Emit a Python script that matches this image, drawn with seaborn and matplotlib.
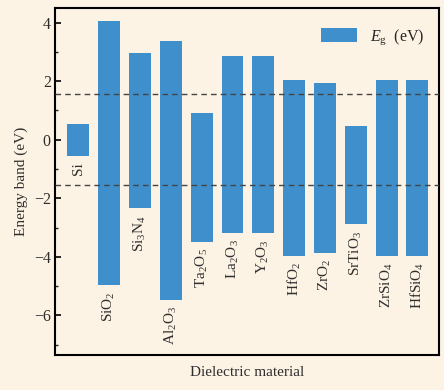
import matplotlib
matplotlib.use("Agg")
import matplotlib.pyplot as plt
import seaborn as sns
import pandas as pd
from matplotlib.ticker import MultipleLocator
from matplotlib.patches import Patch

materials = ["Si", "SiO2", "Si3N4", "Al2O3", "Ta2O5", "La2O3", "Y2O3",
             "HfO2", "ZrO2", "SrTiO3", "ZrSiO4", "HfSiO4"]
labels = ["Si", r"SiO$_2$", r"Si$_3$N$_4$", r"Al$_2$O$_3$", r"Ta$_2$O$_5$",
          r"La$_2$O$_3$", r"Y$_2$O$_3$", r"HfO$_2$", r"ZrO$_2$", r"SrTiO$_3$",
          r"ZrSiO$_4$", r"HfSiO$_4$"]
band_top = [0.55, 4.05, 2.97, 3.37, 0.91, 2.85, 2.85, 2.05, 1.94, 0.46, 2.05, 2.05]
band_bottom = [-0.55, -4.97, -2.34, -5.46, -3.48, -3.17, -3.17, -3.96, -3.86, -2.88, -3.96, -3.96]
ref_levels = [1.56, -1.56]

bg = "#FDF3E4"
bar_color = "#3E8FCB"
txt = "#2e2e2e"

sns.set_theme(style="ticks")
plt.rcParams["font.family"] = ["Liberation Serif", "DejaVu Serif"]
plt.rcParams["mathtext.fontset"] = "custom"
plt.rcParams["mathtext.rm"] = "Liberation Serif"
plt.rcParams["mathtext.it"] = "Liberation Serif:italic"

df = pd.DataFrame({
    "material": materials,
    "gap": [t - b for t, b in zip(band_top, band_bottom)],
    "bottom": band_bottom,
})

fig = plt.figure(figsize=(4.44, 3.90), dpi=100, facecolor=bg)
ax = fig.add_axes([55 / 444, 1 - 355 / 390, (439 - 55) / 444, (355 - 8) / 390])
ax.set_facecolor(bg)

sns.barplot(data=df, x="material", y="gap", order=materials, color=bar_color,
            saturation=1, width=0.71, bottom=df["bottom"].to_numpy(), ax=ax,
            linewidth=0)

for y in ref_levels:
    ax.axhline(y, color="#444444", lw=1.0, ls=(0, (4, 3)), zorder=3)

for i, (lab, b) in enumerate(zip(labels, band_bottom)):
    ax.text(i, b - 0.22, lab, rotation=90, ha="center", va="top",
            fontsize=11, color=txt)

ax.set_xlim(-0.76, 11.7)
ax.set_ylim(-7.35, 4.5)
ax.set_xticks([])
ax.yaxis.set_major_locator(MultipleLocator(2))
ax.yaxis.set_minor_locator(MultipleLocator(1))
ax.tick_params(axis="y", which="major", direction="in", length=4, width=1.2,
               labelsize=11.5, colors="black", labelcolor=txt, pad=3)
ax.tick_params(axis="y", which="minor", direction="in", length=2.5, width=1.0)
for s in ax.spines.values():
    s.set_visible(True)
    s.set_linewidth(1.5)
    s.set_color("black")

ax.set_xlabel("Dielectric material", fontsize=11, color=txt, labelpad=8)
ax.set_ylabel("Energy band (eV)", fontsize=11, color=txt, labelpad=4)

ax.legend(handles=[Patch(facecolor=bar_color, edgecolor="none",
                         label=r"$E_{\rm g}$  (eV)")],
          loc="upper right", frameon=False, fontsize=11.5,
          handlelength=2.3, handleheight=1.0, handletextpad=0.8,
          bbox_to_anchor=(1.0, 0.985))

fig.savefig("out.png", dpi=100, facecolor=bg)
